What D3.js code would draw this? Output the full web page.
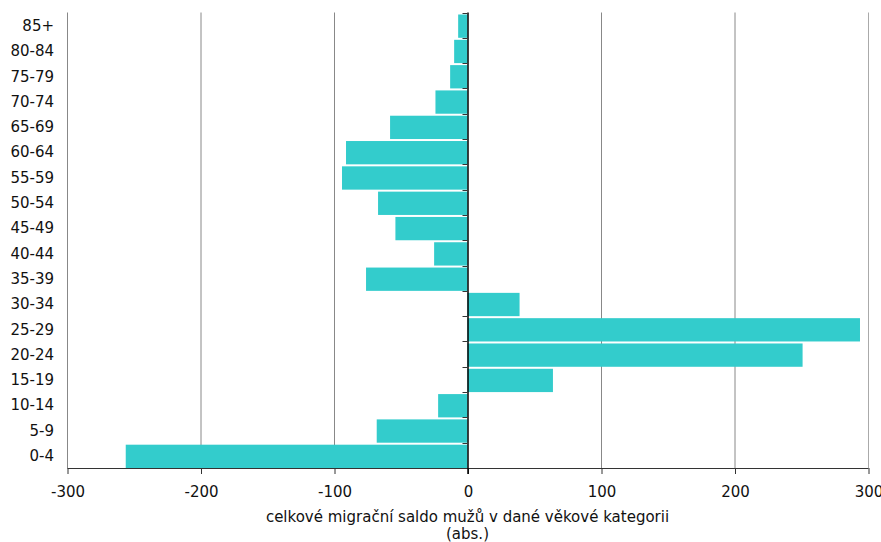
<!DOCTYPE html>
<html>
<head>
<meta charset="utf-8">
<script src="https://cdn.jsdelivr.net/npm/d3@7"></script>
<style>
  html, body { margin: 0; padding: 0; background: #fff; }
  svg { display: block; }
  text { font-family: "DejaVu Sans", Verdana, sans-serif; fill: #111; }
</style>
</head>
<body>
<svg id="chart" width="881" height="542"></svg>
<script>
const categories = ["85+","80-84","75-79","70-74","65-69","60-64","55-59","50-54","45-49","40-44","35-39","30-34","25-29","20-24","15-19","10-14","5-9","0-4"];
const values = [-7,-10,-13,-24,-58,-91,-94,-67,-54,-25,-76,39,294,251,64,-22,-68,-256];
const xTicks = [-300,-200,-100,0,100,200,300];
const xTitle1 = "celkové migrační saldo mužů v dané věkové kategorii";
const xTitle2 = "(abs.)";

const svg = d3.select("#chart");
const mLeft = 67, mRight = 868, mTop = 12.5, mBottom = 468;

const x = d3.scaleLinear().domain([-300, 300]).range([mLeft, mRight]);
const y = d3.scaleBand().domain(categories).range([mTop, mBottom]).padding(0);

// gridlines
svg.append("g").selectAll("line").data(xTicks.filter(t => t !== 0)).join("line")
  .attr("x1", d => x(d) + 0.5).attr("x2", d => x(d) + 0.5)
  .attr("y1", mTop).attr("y2", mBottom)
  .attr("stroke", d => d === 300 ? "#aaa" : "#888").attr("stroke-width", 1);

// bars
const data = categories.map((c, i) => ({c, v: values[i]}));
svg.append("g").selectAll("rect").data(data).join("rect")
  .attr("x", d => Math.min(x(0), x(d.v)))
  .attr("width", d => Math.abs(x(d.v) - x(0)))
  .attr("y", d => y(d.c) + 2)
  .attr("height", y.bandwidth() - 2)
  .attr("fill", "#33CCCC");

// bottom axis
const xAxis = d3.axisBottom(x).tickValues(xTicks).tickSize(6).tickPadding(12).tickFormat(d => String(d));
const gx = svg.append("g").attr("transform", `translate(0.5,${mBottom})`).call(xAxis);
gx.select(".domain").attr("stroke", "#333").attr("d", `M${mLeft},0.5H${mRight}`);
gx.selectAll(".tick line").attr("stroke", "#333");
gx.selectAll(".tick text").attr("font-size", "15px").attr("fill", "#111")
  .style("font-family", "'DejaVu Sans', Verdana, sans-serif");

// zero axis with ticks at band boundaries
const zeroX = x(0);
svg.append("line").attr("x1", zeroX + 0.5).attr("x2", zeroX + 0.5)
  .attr("y1", mTop).attr("y2", mBottom + 6).attr("stroke", "#000").attr("stroke-width", 1.5);
const bounds = categories.map(c => y(c));
svg.append("g").selectAll("line").data(bounds).join("line")
  .attr("x1", zeroX - 5).attr("x2", zeroX)
  .attr("y1", d => Math.round(d) + 0.5).attr("y2", d => Math.round(d) + 0.5)
  .attr("stroke", "#333");

// category labels
svg.append("g").selectAll("text").data(categories).join("text")
  .attr("x", 54)
  .attr("y", d => y(d) + y.bandwidth() / 2 + 0.5)
  .attr("dy", "0.35em")
  .attr("text-anchor", "end")
  .attr("font-size", "15px")
  .text(d => d);

// axis title
const cx = (mLeft + mRight) / 2;
svg.append("text").attr("x", cx).attr("y", 522).attr("text-anchor", "middle")
  .attr("font-size", "15px").text(xTitle1);
svg.append("text").attr("x", cx).attr("y", 539).attr("text-anchor", "middle")
  .attr("font-size", "15px").text(xTitle2);
</script>
</body>
</html>
